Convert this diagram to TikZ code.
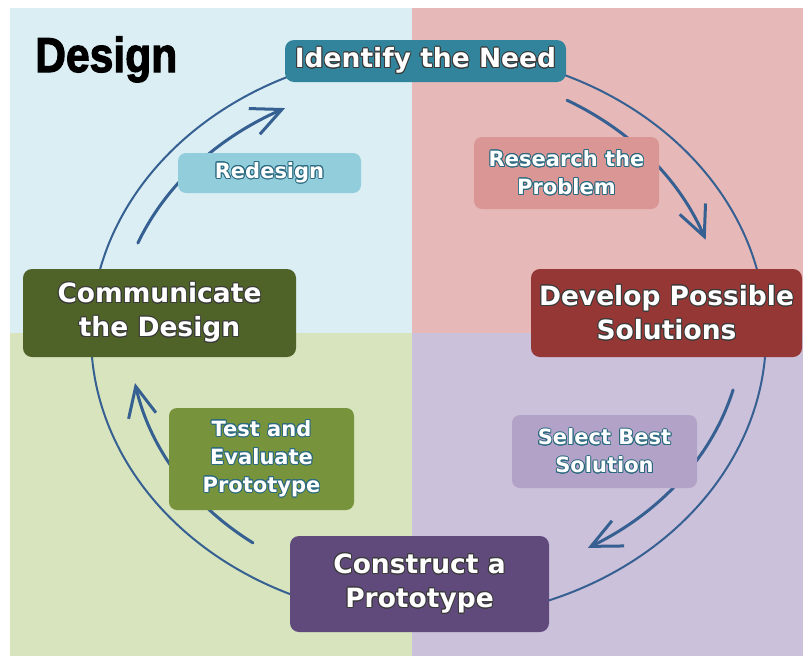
\documentclass[tikz,border=0pt]{standalone}
\usepackage{fontspec}
\setmainfont{DejaVu Sans}
\newfontface\titlefont[FakeBold=2.5]{Liberation Sans Bold}
\usepackage{contour}
\contourlength{0.9pt}
\usetikzlibrary{arrows.meta}
\definecolor{qblue}{HTML}{DBEEF4}
\definecolor{qpink}{HTML}{E6B9B8}
\definecolor{qgreen}{HTML}{D7E4BD}
\definecolor{qpurple}{HTML}{CCC1DA}
\definecolor{cteal}{HTML}{31849B}
\definecolor{cred}{HTML}{953735}
\definecolor{cdkgreen}{HTML}{4F6228}
\definecolor{cpurple}{HTML}{604A7B}
\definecolor{lpink}{HTML}{DA9694}
\definecolor{lblue}{HTML}{92CDDC}
\definecolor{lgreen}{HTML}{77933C}
\definecolor{lpurple}{HTML}{B3A2C7}
\definecolor{cline}{HTML}{366092}
\definecolor{outdk}{HTML}{3A3A3A}
\definecolor{outteal}{HTML}{2B6A80}
\newcommand\mainT[1]{\contour{outdk}{#1}}
\newcommand\smallT[1]{\contour{outteal}{#1}}
\newcommand\arcarrow[4]{%
  \draw[arr] plot[domain=#1:#2, samples=40, variable=\t]
   ({428.5+337.5*(#3+(#4-#3)*(\t-(#1))/((#2)-(#1)))*cos(\t)},
    {335+284*(#3+(#4-#3)*(\t-(#1))/((#2)-(#1)))*sin(\t)});}
\begin{document}
\begin{tikzpicture}[x=1pt,y=-1pt,
  mainbox/.style={rounded corners=9pt, inner sep=0pt, text=white,
    font=\fontsize{26.5}{34}\selectfont\bfseries, align=center},
  smallbox/.style={rounded corners=8pt, inner sep=0pt, text=white,
    font=\fontsize{21}{28}\selectfont\bfseries, align=center},
  arr/.style={cline, line width=3pt, line cap=round,
    -{Straight Barb[length=30pt,width=28pt]}}]
\useasboundingbox (0,0) rectangle (803,656);
% quadrants
\fill[qblue] (10,8) rectangle (412,333);
\fill[qpink] (412,8) rectangle (803,333);
\fill[qgreen] (10,333) rectangle (412,656);
\fill[qpurple] (412,333) rectangle (803,656);
% title
\node[anchor=base west, inner sep=0pt, font=\titlefont\fontsize{49}{49}\selectfont] (title) at (35,72) {\scalebox{0.87}[1]{Design}};
% cycle
\draw[cline, line width=2pt] (428.5,335) ellipse [x radius=337.5, y radius=284];
% inner arrows
\arcarrow{200.6}{242}{0.92}{0.905}
\arcarrow{-63.6}{-22.2}{0.923}{0.887}
\arcarrow{12.1}{57.8}{0.923}{0.886}
\arcarrow{125.4}{169}{0.898}{0.886}
% main boxes
\node[mainbox, fill=cteal, minimum width=281pt, minimum height=42pt] (need) at (425.5,61) {\mainT{Identify the Need}};
\node[mainbox, fill=cred, minimum width=271pt, minimum height=88pt] (develop) at (666.5,313) {\mainT{Develop Possible}\\\mainT{Solutions}};
\node[mainbox, fill=cdkgreen, minimum width=273pt, minimum height=88pt] (comm) at (159.5,313) {\mainT{Communicate}\\\mainT{the Design}};
\node[mainbox, fill=cpurple, minimum width=259pt, minimum height=96pt] (construct) at (419.5,584) {\mainT{Construct a}\\\mainT{Prototype}};
% small boxes
\node[smallbox, fill=lpink, minimum width=185pt, minimum height=72pt] (research) at (566.5,173) {\smallT{Research the}\\\smallT{Problem}};
\node[smallbox, fill=lblue, minimum width=183pt, minimum height=40pt] (redesign) at (269.5,173) {\smallT{Redesign}};
\node[smallbox, fill=lpurple, minimum width=185pt, minimum height=73pt] (select) at (604.5,451.5) {\smallT{Select Best}\\\smallT{Solution}};
\node[smallbox, fill=lgreen, minimum width=185pt, minimum height=102pt] (test) at (261.5,459) {\smallT{Test and}\\\smallT{Evaluate}\\\smallT{Prototype}};
\end{tikzpicture}
\end{document}
